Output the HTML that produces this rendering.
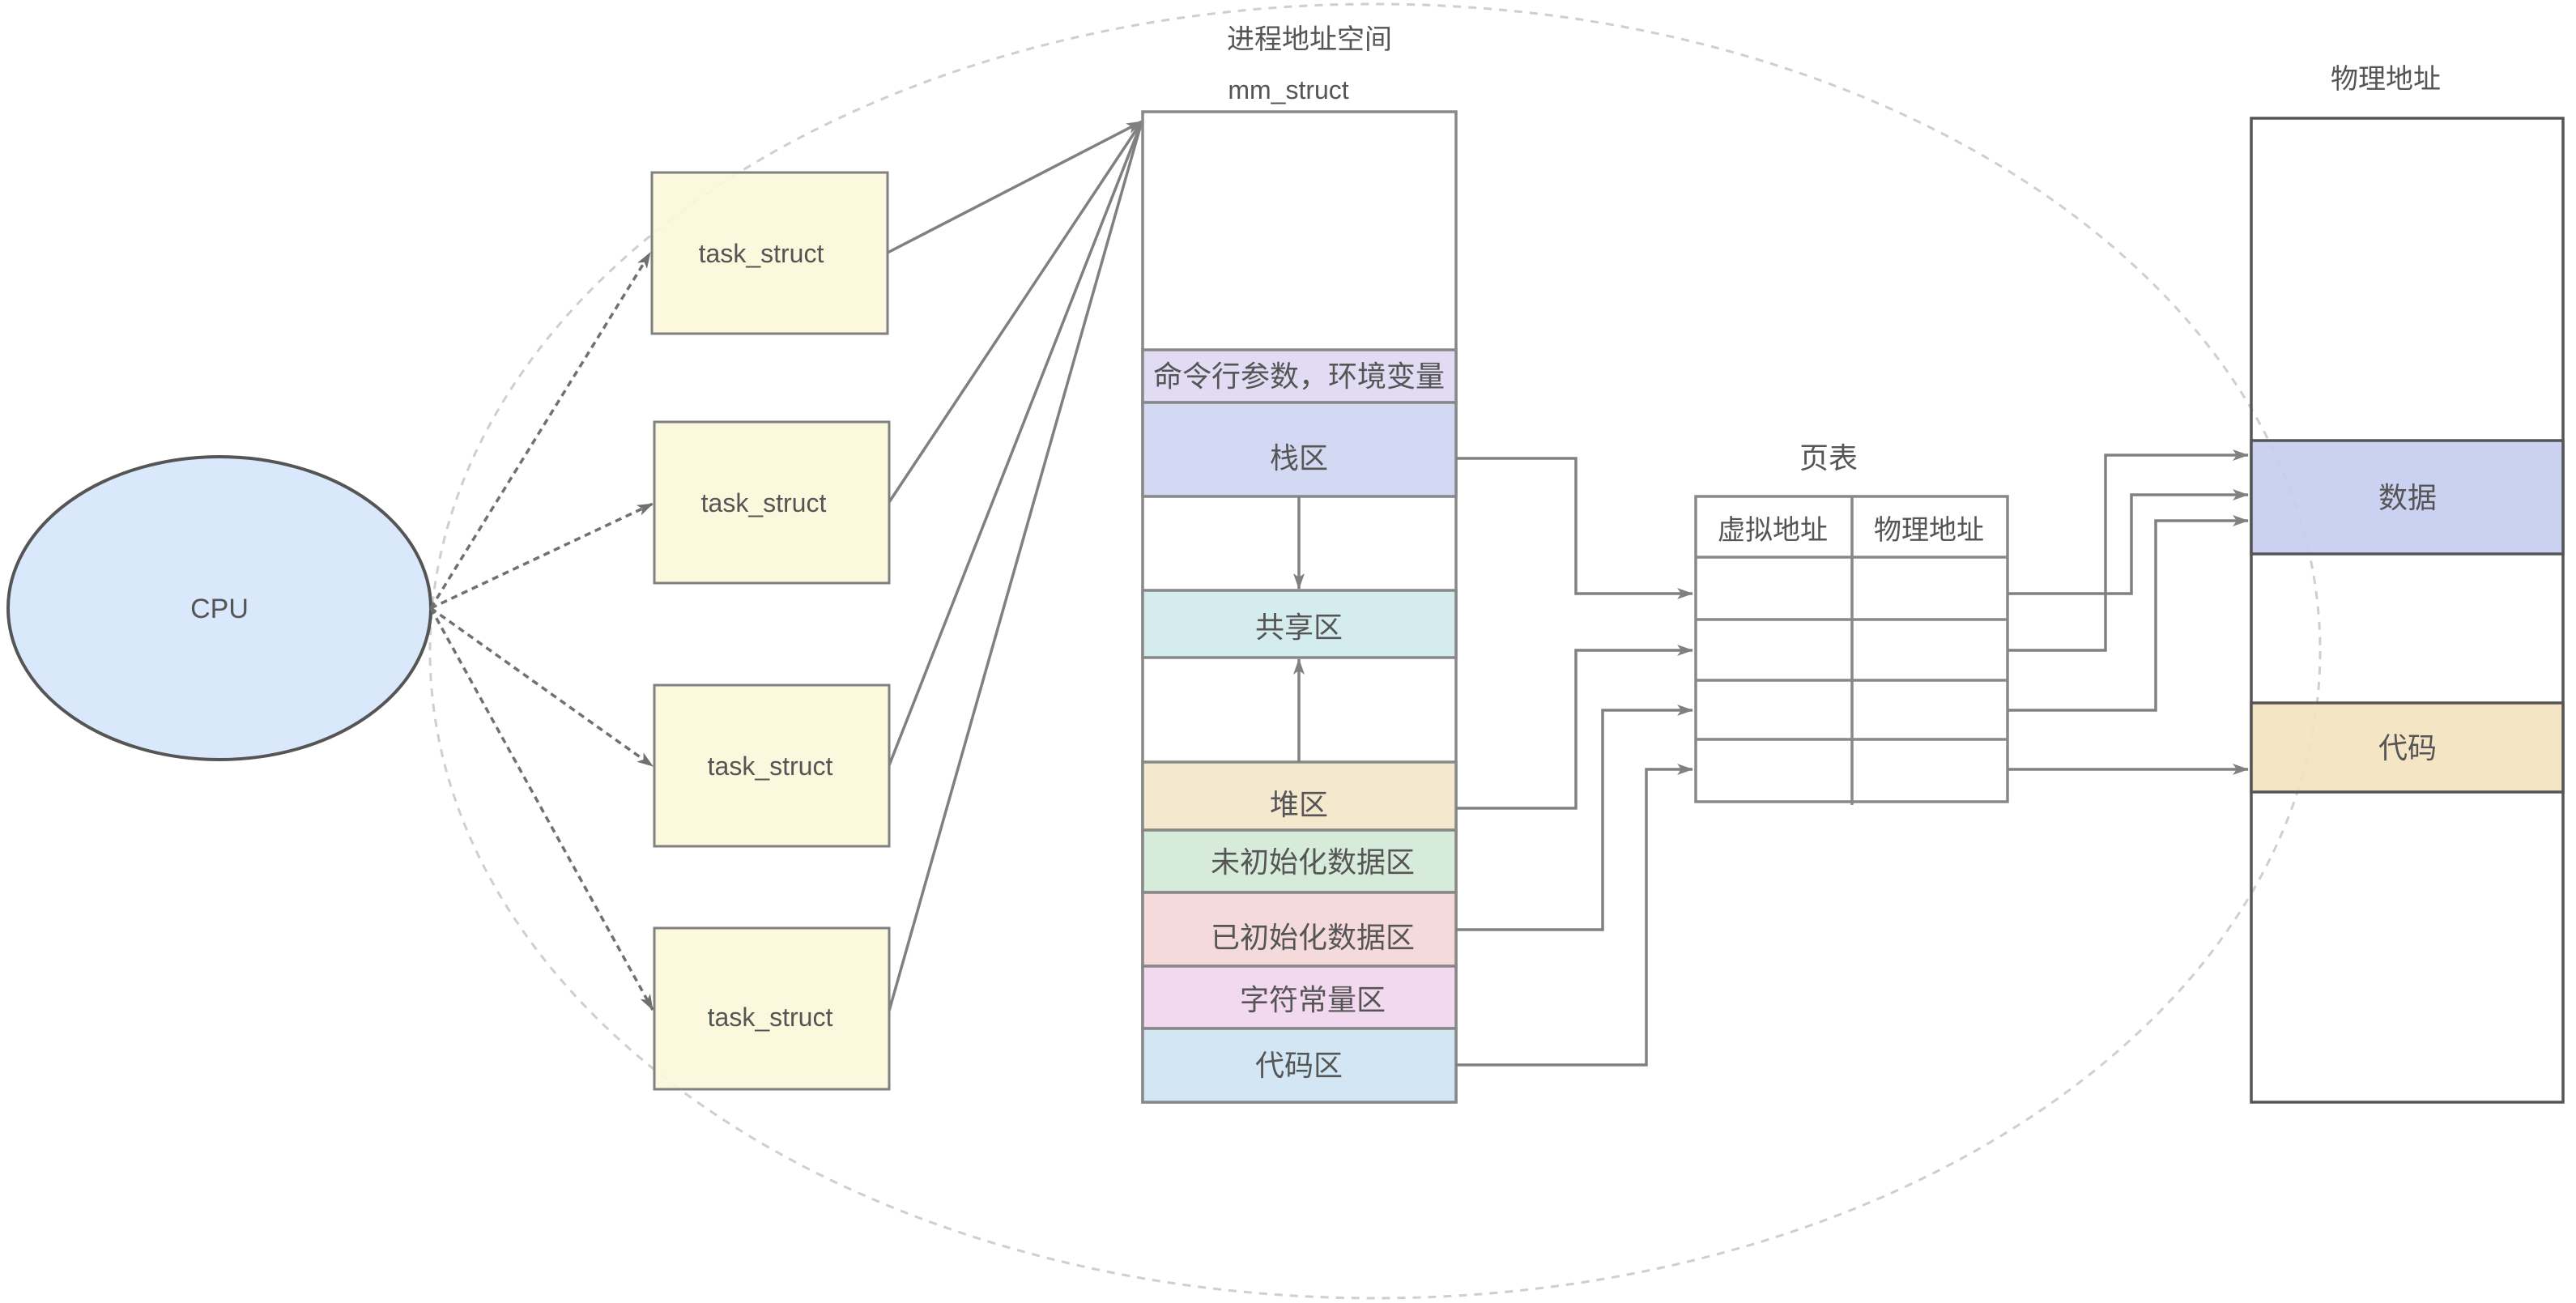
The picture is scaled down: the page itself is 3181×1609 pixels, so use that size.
<!DOCTYPE html>
<html><head><meta charset="utf-8"><style>
html,body{margin:0;padding:0;background:#fff;}
svg{display:block;}
text{font-family:"Liberation Sans","Noto Sans CJK SC",sans-serif;fill:#555;}
</style></head><body>
<svg width="3181" height="1609" viewBox="0 0 3181 1609" xmlns="http://www.w3.org/2000/svg">
<defs>
<marker id="a" markerWidth="10" markerHeight="8" refX="9" refY="4" orient="auto" markerUnits="userSpaceOnUse" viewBox="0 0 10 8">
</marker>
<marker id="ar" viewBox="0 0 20 14" refX="19" refY="7" markerWidth="20" markerHeight="14" orient="auto" markerUnits="userSpaceOnUse"><path d="M0,0 L20,7 L0,14 L5,7 z" fill="#808080"/></marker>
<marker id="ad" viewBox="0 0 20 14" refX="19" refY="7" markerWidth="20" markerHeight="14" orient="auto" markerUnits="userSpaceOnUse"><path d="M0,0 L20,7 L0,14 L5,7 z" fill="#707070"/></marker>
</defs>

<!-- big dashed ellipse -->
<ellipse cx="1698" cy="804" rx="1167" ry="799" fill="none" stroke="#cfcfcf" stroke-width="3" stroke-dasharray="10 9"/>

<!-- CPU -->
<ellipse cx="271" cy="751" rx="261" ry="187" fill="#dae8fc" stroke="#555" stroke-width="4"/>
<text x="271" y="763" font-size="34" text-anchor="middle" fill="#333">CPU</text>

<!-- task_structs -->
<g fill="#fcf7d9" fill-opacity="0.9" stroke="#808080" stroke-width="3">
<rect x="805" y="213" width="291" height="199"/>
<rect x="808" y="521" width="290" height="199"/>
<rect x="808" y="846" width="290" height="199"/>
<rect x="808" y="1146" width="290" height="199"/>
</g>
<g font-size="32" text-anchor="middle">
<text x="940" y="324">task_struct</text>
<text x="943" y="632">task_struct</text>
<text x="951" y="957">task_struct</text>
<text x="951" y="1267">task_struct</text>
</g>

<!-- CPU dashed arrows -->
<g stroke="#707070" stroke-width="3.5" stroke-dasharray="8 6" fill="none" marker-end="url(#ad)">
<line x1="532" y1="751" x2="803" y2="312"/>
<line x1="532" y1="751" x2="806" y2="622"/>
<line x1="532" y1="751" x2="806" y2="946"/>
<line x1="532" y1="751" x2="806" y2="1247"/>
</g>

<!-- task to mm lines -->
<g stroke="#808080" stroke-width="3.5" fill="none">
<line x1="1096" y1="312" x2="1410" y2="150" marker-end="url(#ar)"/>
<line x1="1098" y1="620" x2="1410" y2="150"/>
<line x1="1098" y1="945" x2="1410" y2="150"/>
<line x1="1098" y1="1248" x2="1410" y2="150"/>
</g>

<!-- mm_struct -->
<text x="1617" y="60" font-size="34" text-anchor="middle">进程地址空间</text>
<text x="1591" y="122" font-size="32" text-anchor="middle">mm_struct</text>
<g stroke="#888" stroke-width="3.5">
<rect x="1411" y="138" width="387" height="1223" fill="#fff"/>
<rect x="1411" y="432" width="387" height="65" fill="#e1dcf3"/>
<rect x="1411" y="497" width="387" height="116" fill="#d4d9f3"/>
<rect x="1411" y="729" width="387" height="83" fill="#d4eced"/>
<rect x="1411" y="941" width="387" height="84" fill="#f4e8ce"/>
<rect x="1411" y="1025" width="387" height="77" fill="#d7ebdb"/>
<rect x="1411" y="1102" width="387" height="91" fill="#f5dadb"/>
<rect x="1411" y="1193" width="387" height="77" fill="#f2d9ef"/>
<rect x="1411" y="1270" width="387" height="91" fill="#d3e6f4"/>
</g>
<g font-size="36" text-anchor="middle">
<text x="1604" y="477">命令行参数，环境变量</text>
<text x="1604" y="578">栈区</text>
<text x="1604" y="787">共享区</text>
<text x="1604" y="1006">堆区</text>
<text x="1621" y="1077">未初始化数据区</text>
<text x="1621" y="1170">已初始化数据区</text>
<text x="1621" y="1247">字符常量区</text>
<text x="1604" y="1328">代码区</text>
</g>
<g stroke="#808080" stroke-width="3.5" fill="none" marker-end="url(#ar)">
<line x1="1604" y1="613" x2="1604" y2="727"/>
<line x1="1604" y1="941" x2="1604" y2="814"/>
</g>

<!-- page table -->
<text x="2258" y="578" font-size="36" text-anchor="middle">页表</text>
<g stroke="#888" stroke-width="3.5" fill="#fff">
<rect x="2094" y="613" width="385" height="377"/>
</g>
<g stroke="#888" stroke-width="3.5">
<line x1="2287" y1="613" x2="2287" y2="994"/>
<line x1="2094" y1="688" x2="2479" y2="688"/>
<line x1="2094" y1="765" x2="2479" y2="765"/>
<line x1="2094" y1="840" x2="2479" y2="840"/>
<line x1="2094" y1="913" x2="2479" y2="913"/>
</g>
<g font-size="34" text-anchor="middle">
<text x="2189" y="666">虚拟地址</text>
<text x="2382" y="666">物理地址</text>
</g>

<!-- mm -> page table -->
<g stroke="#808080" stroke-width="3.5" fill="none" marker-end="url(#ar)">
<polyline points="1798,566 1946,566 1946,733 2090,733"/>
<polyline points="1798,998 1946,998 1946,803 2090,803"/>
<polyline points="1798,1148 1979,1148 1979,877 2090,877"/>
<polyline points="1798,1315 2033,1315 2033,950 2090,950"/>
</g>

<!-- physical -->
<text x="2946" y="109" font-size="34" text-anchor="middle" fill="#333">物理地址</text>
<g stroke="#555" stroke-width="3.5">
<rect x="2780" y="146" width="385" height="1215" fill="none"/>
<rect x="2780" y="544" width="385" height="140" fill="#c5cdf0" fill-opacity="0.9"/>
<rect x="2780" y="868" width="385" height="110" fill="#f3e2bf" fill-opacity="0.9"/>
</g>
<g font-size="36" text-anchor="middle" fill="#333">
<text x="2973" y="627" fill="#333">数据</text>
<text x="2973" y="936" fill="#333">代码</text>
</g>

<!-- page table -> physical -->
<g stroke="#808080" stroke-width="3.5" fill="none" marker-end="url(#ar)">
<polyline points="2479,733 2632,733 2632,611 2776,611"/>
<polyline points="2479,803 2600,803 2600,562 2776,562"/>
<polyline points="2479,877 2662,877 2662,643 2776,643"/>
<polyline points="2479,950 2776,950"/>
</g>
</svg>
</body></html>
